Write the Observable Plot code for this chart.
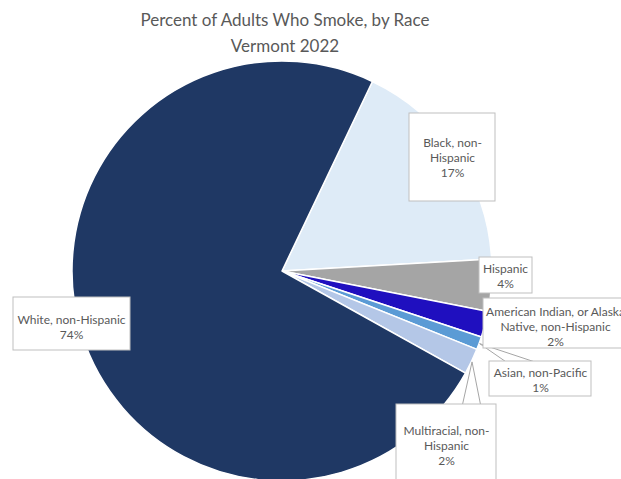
<!DOCTYPE html>
<html><head><meta charset="utf-8">
<script src="https://cdn.jsdelivr.net/npm/d3@7"></script>
<script src="https://cdn.jsdelivr.net/npm/@observablehq/plot@0.6"></script>
<style>
body{margin:0;background:#fff;width:621px;height:479px;overflow:hidden;font-family:Lato,"Open Sans",sans-serif}
#title{height:58px;width:570px;box-sizing:border-box;padding-top:7px;text-align:center;color:#595959;font-size:17px;line-height:26px}
#chart svg{display:block}
</style></head><body>
<div id="title"><div>Percent of Adults Who Smoke, by Race</div><div>Vermont 2022</div></div>
<div id="chart"></div>
<script>
// Data
const categories = ["Black, non-Hispanic","Hispanic","American Indian, or Alaska Native, non-Hispanic","Asian, non-Pacific","Multiracial, non-Hispanic","White, non-Hispanic"];
const percents = [17, 4, 2, 1, 2, 74];
const labelLines = [["Black, non-","Hispanic"],["Hispanic"],["American Indian, or Alaska","Native, non-Hispanic"],["Asian, non-Pacific"],["Multiracial, non-","Hispanic"],["White, non-Hispanic"]];

// Styles
const colors = ["#DEEBF7","#A5A5A5","#1F0FBF","#5B9BD5","#B4C7E7","#1F3864"];

// Layout (pixels in chart coordinates)
const W = 621, H = 421;
const cx = 282, cy = 213, R = 210, startDeg = 25.5;
// box: x1,y1,x2,y2, text center tx,ty
const labelBoxes = [
  [409, 55, 495, 143, 452, 99],
  [479, 199, 532, 235, 505, 217],
  [483, 240, 660, 290, 555, 268],
  [489, 303, 591, 338, 540, 321],
  [396, 346, 496, 460, 446, 387],
  [13, 239, 130, 292, 71, 268]
];
// callout base points for slices with leader lines: index -> [[x,y],[x,y]]
const callouts = {3: [[505, 303], [533, 303]], 4: [[462, 346], [480, 346]]};

const rows = categories.map((c, i) => ({
  category: c, pct: percents[i], color: colors[i],
  label: [...labelLines[i], percents[i] + "%"].join("\n"),
  x1: labelBoxes[i][0], y1: labelBoxes[i][1], x2: labelBoxes[i][2], y2: labelBoxes[i][3],
  tx: labelBoxes[i][4], ty: labelBoxes[i][5]
}));

const a0 = startDeg * Math.PI / 180;
const arcs = d3.pie().value(d => d.pct).sort(null).startAngle(a0).endAngle(a0 + 2 * Math.PI)(rows);
const arcGen = d3.arc().innerRadius(0).outerRadius(R);

const links = [];
for (const [k, pts] of Object.entries(callouts)) {
  const a = arcs[+k];
  const mid = (a.startAngle + a.endAngle) / 2;
  const ax = cx + R * Math.sin(mid), ay = cy - R * Math.cos(mid);
  for (const [bx, by] of pts) links.push({x1: ax, y1: ay, x2: bx, y2: by});
}

function pieMark(index, scales) {
  const g = d3.create("svg:g")
    .attr("transform", `translate(${scales.x(cx)},${scales.y(cy)})`);
  g.selectAll("path").data(arcs).join("path")
    .attr("d", arcGen)
    .attr("fill", d => d.data.color)
    .attr("stroke", "#fff")
    .attr("stroke-width", 1.5)
    .attr("stroke-linejoin", "round");
  return g.node();
}

const chart = Plot.plot({
  width: W, height: H,
  margin: 0,
  style: {fontFamily: "Lato, 'Open Sans', sans-serif", background: "#fff"},
  x: {domain: [0, W], range: [0, W], axis: null},
  y: {domain: [0, H], range: [0, H], axis: null},
  marks: [
    pieMark,
    Plot.link(links, {x1: "x1", y1: "y1", x2: "x2", y2: "y2", stroke: "#A6A6A6", strokeWidth: 1}),
    Plot.rect(rows, {x1: "x1", x2: "x2", y1: "y1", y2: "y2", fill: "#fff", stroke: "#BFBFBF", strokeWidth: 1}),
    Plot.text(rows, {x: "tx", y: "ty", text: "label", fill: "#595959", fontSize: 12, lineHeight: 1.25, textAnchor: "middle"})
  ]
});
document.getElementById("chart").appendChild(chart);
</script>
</body></html>
